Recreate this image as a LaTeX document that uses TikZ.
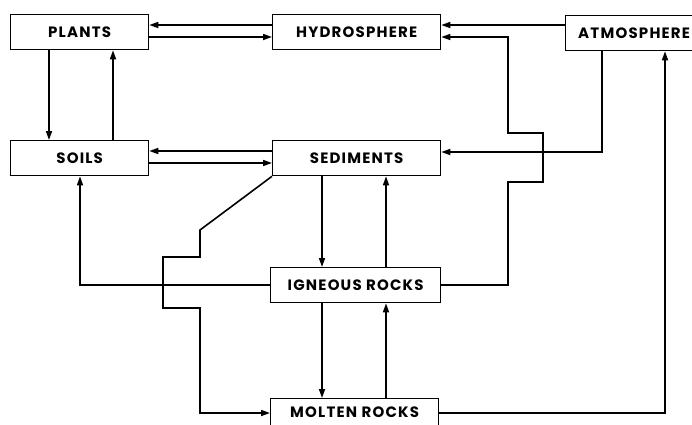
\documentclass[tikz,border=0pt]{standalone}
\usepackage{fontspec}
\newfontfamily\boxfont{Poppins}[LetterSpace=8]
\usetikzlibrary{arrows.meta}
\tikzset{
  box/.style={draw, line width=1.3pt, rectangle, anchor=north west, inner sep=0pt,
    minimum height=35pt, font=\boxfont\bfseries\fontsize{15}{15}\selectfont},
  flow/.style={line width=1.6pt, -{Triangle[length=9pt,width=6pt]}},
}
\begin{document}
\begin{tikzpicture}[x=1pt,y=-1pt]
  \useasboundingbox (0,0) rectangle (692,424);
  \clip (0,0) rectangle (692,424);
  % boxes
  \node[box, minimum width=138pt] (plants) at (10,14) {PLANTS};
  \node[box, minimum width=168pt] (hyd) at (272,14) {HYDROSPHERE};
  \node[box, minimum width=137pt] (atm) at (565,15) {ATMOSPHERE};
  \node[box, minimum width=138pt] (soils) at (10,140) {SOILS};
  \node[box, minimum width=168pt] (sed) at (272,140) {SEDIMENTS};
  \node[box, minimum width=170pt] (ign) at (270,267) {IGNEOUS ROCKS};
  \node[box, minimum width=168pt, minimum height=28pt] (mol) at (270,398) {MOLTEN ROCKS};
  % junction points of the long routes
  \coordinate (h1) at (508,285);
  \coordinate (h2) at (508,182);
  \coordinate (h3) at (543,182);
  \coordinate (h4) at (543,133);
  \coordinate (h5) at (508,133);
  \coordinate (h6) at (508,37);
  \coordinate (a1) at (602,152);
  \coordinate (m1) at (665,413);
  \coordinate (s1) at (80,285);
  \coordinate (d1) at (200,230);
  \coordinate (d2) at (200,257);
  \coordinate (d3) at (163,257);
  \coordinate (d4) at (163,308);
  \coordinate (d5) at (200,308);
  \coordinate (d6) at (200,413);
  % top row
  \draw[flow] (hyd.west |- 0,25) -- (plants.east |- 0,25);
  \draw[flow] (plants.east |- 0,37) -- (hyd.west |- 0,37);
  \draw[flow] (atm.west |- 0,25) -- (hyd.east |- 0,25);
  \draw[flow] (ign.east |- h1) -- (h1) -- (h2) -- (h3) -- (h4) -- (h5) -- (h6) -- (hyd.east |- h6);
  \draw[flow] (atm.south -| a1) -- (a1) -- (sed.east |- a1);
  \draw[flow] (mol.east |- m1) -- (m1) -- (atm.south -| m1);
  % plants and soils
  \draw[flow] (plants.south -| 49,0) -- (soils.north -| 49,0);
  \draw[flow] (soils.north -| 113,0) -- (plants.south -| 113,0);
  \draw[flow] (sed.west |- 0,151) -- (soils.east |- 0,151);
  \draw[flow] (soils.east |- 0,163) -- (sed.west |- 0,163);
  % rock cycle column
  \draw[flow] (sed.south -| 322,0) -- (ign.north -| 322,0);
  \draw[flow] (ign.north -| 386,0) -- (sed.south -| 386,0);
  \draw[flow] (ign.south -| 322,0) -- (mol.north -| 322,0);
  \draw[flow] (mol.north -| 386,0) -- (ign.south -| 386,0);
  \draw[flow] (ign.west |- s1) -- (s1) -- (soils.south -| s1);
  \draw[flow] (sed.south west) -- (d1) -- (d2) -- (d3) -- (d4) -- (d5) -- (d6) -- (mol.west |- d6);
\end{tikzpicture}
\end{document}
